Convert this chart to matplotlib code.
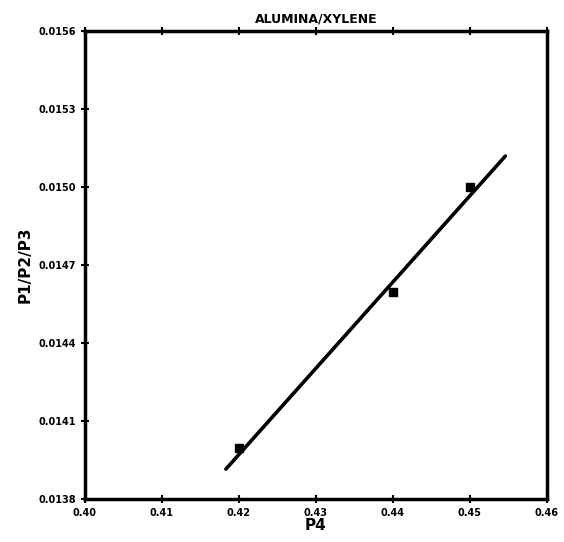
import matplotlib
matplotlib.use("Agg")
import matplotlib.pyplot as plt

# Data
p4 = [0.42, 0.44, 0.45]
ratio = [0.013995, 0.014597, 0.014999]
fit_x = [0.4183, 0.4546]
fit_y = [0.013915, 0.015119]
x_ticks = [0.40, 0.41, 0.42, 0.43, 0.44, 0.45, 0.46]
y_ticks = [0.0138, 0.0141, 0.0144, 0.0147, 0.0150, 0.0153, 0.0156]

fig = plt.figure(figsize=(5.64, 5.42), dpi=100)
ax = fig.add_axes([0.1507, 0.0793, 0.819, 0.8635])

ax.plot(fit_x, fit_y, color="black", lw=2.6, solid_capstyle="round")
ax.plot(p4, ratio, "s", color="black", ms=6)

ax.set_xlim(0.40, 0.46)
ax.set_ylim(0.0138, 0.0156)
ax.set_xticks(x_ticks)
ax.set_yticks(y_ticks)
ax.set_xticklabels([f"{v:.2f}" for v in x_ticks], fontsize=7, fontweight="bold")
ax.set_yticklabels([f"{v:.4f}" for v in y_ticks], fontsize=7, fontweight="bold")
ax.tick_params(axis="both", direction="inout", length=6, width=1.5)
ax.tick_params(top=True, labeltop=False)

for s in ax.spines.values():
    s.set_linewidth(2.5)

ax.set_title("ALUMINA/XYLENE", fontsize=9, fontweight="bold", pad=6)
ax.set_xlabel("P4", fontsize=11, fontweight="bold", labelpad=0)
ax.set_ylabel("P1/P2/P3", fontsize=11, fontweight="bold", labelpad=4)

fig.savefig("out.png", dpi=100)
